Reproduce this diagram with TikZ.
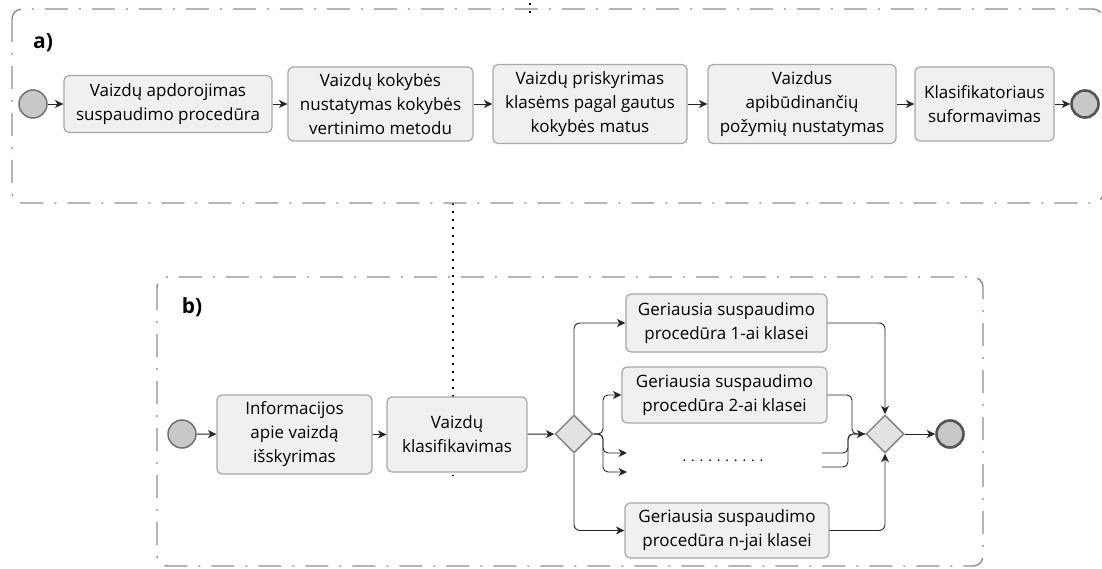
\documentclass[tikz,border=0pt]{standalone}
\usepackage{fontspec}
\setmainfont{Open Sans}
\usetikzlibrary{shapes.geometric,arrows.meta}
\definecolor{boxfill}{HTML}{F0F0F0}
\definecolor{boxline}{HTML}{A8A8A8}
\definecolor{evfill}{HTML}{C8C8C8}
\definecolor{evline}{HTML}{707070}
\definecolor{evlineb}{HTML}{555555}
\definecolor{gwfill}{HTML}{E2E2E2}
\definecolor{gwline}{HTML}{858585}
\definecolor{poolline}{HTML}{8E8E8E}
\pgfdeclarelayer{bg}
\pgfsetlayers{bg,main}
\begin{document}
\begin{tikzpicture}[x=1pt,y=-1pt,
 task/.style={draw=boxline, fill=boxfill, line width=1.2pt, rounded corners=5pt, align=center, inner sep=0pt, font=\fontsize{17}{24}\selectfont},
 startev/.style={circle, draw=evline, fill=evfill, line width=1.5pt, minimum size=28pt, inner sep=0pt},
 endev/.style={circle, draw=evlineb, fill=evfill, line width=2.6pt, minimum size=27pt, inner sep=0pt},
 gw/.style={diamond, aspect=1, draw=gwline, fill=gwfill, line width=1.5pt, minimum size=38pt, inner sep=0pt},
 conn/.style={draw=black!85, line width=0.9pt, -{Stealth[length=8.5pt,width=8pt,inset=2.5pt]}},
 plain/.style={draw=black!85, line width=0.9pt},
 pool/.style={draw=poolline, line width=1.4pt, rounded corners=10pt, dash pattern=on 23pt off 11pt on 2pt off 11pt},
 assoc/.style={draw=black, line width=1.6pt, dash pattern=on 1.6pt off 6.4pt},
 lbl/.style={font=\fontsize{21}{25}\selectfont\bfseries, inner sep=0pt},
 dotstext/.style={font=\fontsize{14}{18}\selectfont, inner sep=0pt}
]
\useasboundingbox (0,0) rectangle (1102,569);

% pools
\draw[pool] (12,9) rectangle (1103,203);
\draw[pool] (157,277) rectangle (983,566);
\node[lbl] (la) at (43,43) {a)};
\node[lbl] (lb) at (192,307) {b)};

% pool a
\node[startev] (sa) at (33,104) {};
\node[task, minimum width=208pt, minimum height=57pt] (a1) at (168,104) {Vaizdų apdorojimas\\suspaudimo procedūra};
\node[task, minimum width=185pt, minimum height=74pt] (a2) at (380.5,104) {Vaizdų kokybės\\nustatymas kokybės\\vertinimo metodu};
\node[task, minimum width=194pt, minimum height=79pt] (a3) at (590,104) {Vaizdų priskyrimas\\klasėms pagal gautus\\kokybės matus};
\node[task, minimum width=188pt, minimum height=79pt] (a4) at (802,104) {Vaizdus\\apibūdinančių\\požymių nustatymas};
\node[task, minimum width=139pt, minimum height=74pt] (a5) at (984.5,104) {Klasifikatoriaus\\suformavimas};
\node[endev] (ea) at (1085,104) {};
\draw[conn] (sa) -- (a1);
\draw[conn] (a1) -- (a2);
\draw[conn] (a2) -- (a3);
\draw[conn] (a3) -- (a4);
\draw[conn] (a4) -- (a5);
\draw[conn] (a5) -- (ea);

% pool b
\node[startev] (sb) at (182,434) {};
\node[task, minimum width=155pt, minimum height=79pt] (b1) at (294.5,434.5) {Informacijos\\apie vaizdą\\išskyrimas};
\node[task, minimum width=140pt, minimum height=75pt] (b2) at (457,434.5) {Vaizdų\\klasifikavimas};
\node[gw] (d1) at (574,434) {};
\node[task, minimum width=201pt, minimum height=58pt] (g1) at (726.5,323) {Geriausia suspaudimo\\procedūra 1-ai klasei};
\node[task, minimum width=205pt, minimum height=56pt] (g2) at (724.5,395) {Geriausia suspaudimo\\procedūra 2-ai klasei};
\node[task, minimum width=204pt, minimum height=55pt] (gn) at (727,530.5) {Geriausia suspaudimo\\procedūra n-jai klasei};
\node[dotstext] (dots) at (723,461) {. . . . . . . . . .};
\node[gw] (d2) at (885,434) {};
\node[endev] (eb) at (950,434) {};

% association (dotted)
\coordinate (pa) at (453,203);
\coordinate (pb) at (453,476);
\coordinate (ta) at (530,3);
\coordinate (tb) at (530,14);
\begin{pgfonlayer}{bg}
\draw[assoc] (pa) -- (pb);
\end{pgfonlayer}
\draw[assoc] (ta) -- (tb);

\draw[conn] (sb) -- (b1);
\draw[conn] (b1) -- (b2);
\draw[conn] (b2) -- (d1);

\coordinate (s1) at (603,434);
\coordinate (o1) at (627,453);
\coordinate (o2) at (627,472);
\coordinate (i1) at (822,453);
\coordinate (i2) at (822,467);
\coordinate (m1) at (852,434);
\coordinate (m2) at (848,434);

\draw[conn, rounded corners=6pt] (d1.north) |- (g1.west);
\draw[conn, rounded corners=6pt] (d1.south) |- (gn.west);
\draw[conn, rounded corners=5pt] (d1.east) -- (s1) |- (g2.west);
\draw[conn, rounded corners=5pt] (d1.east) -- (s1) |- (o1);
\draw[conn, rounded corners=5pt] (d1.east) -- (s1) |- (o2);

\draw[conn, rounded corners=6pt] (g1.east) -| (d2.north);
\draw[conn, rounded corners=6pt] (gn.east) -| (d2.south);
\draw[conn, rounded corners=5pt] (g2.east) -| (m1) -- (d2.west);
\draw[plain, rounded corners=5pt] (i1) -| (m2) -- (d2.west);
\draw[plain, rounded corners=5pt] (i2) -| (m2) -- (d2.west);
\draw[conn] (d2) -- (eb);
\end{tikzpicture}
\end{document}
